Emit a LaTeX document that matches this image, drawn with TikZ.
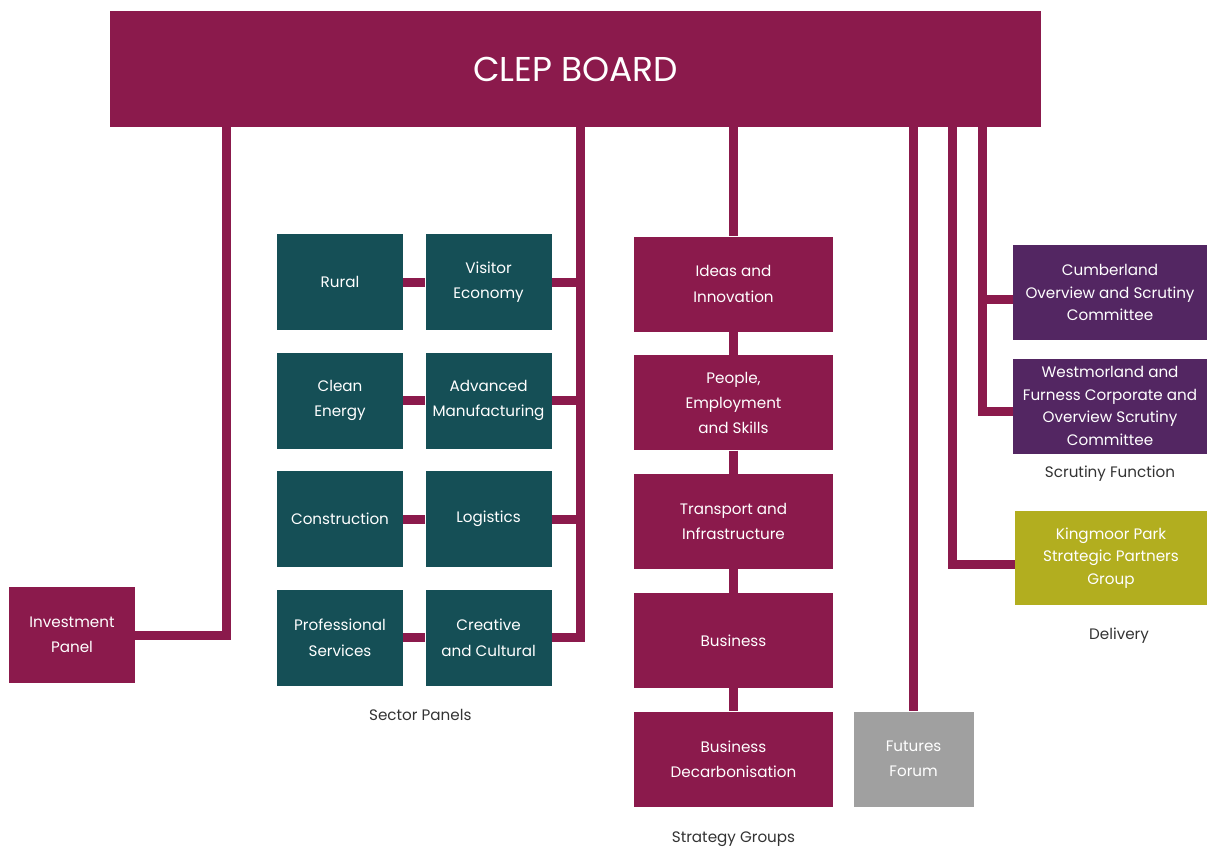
\documentclass[tikz,border=0pt]{standalone}
\usepackage{fontspec}
\setmainfont{Poppins}
\usetikzlibrary{calc,positioning}
\definecolor{clepred}{HTML}{8B1A4C}
\definecolor{clepteal}{HTML}{154F56}
\definecolor{scrutpurple}{HTML}{532662}
\definecolor{deliveryolive}{HTML}{B2AE1F}
\definecolor{futuregray}{HTML}{A0A0A0}
\definecolor{labelgray}{HTML}{333333}

\begin{document}
\begin{tikzpicture}[font=\fontsize{10.8}{18}\selectfont, node distance=0.55cm]
    \tikzset{
      panel/.style={fill=#1, text=white, align=center, inner sep=1pt},
      sector/.style={panel=clepteal, minimum width=3.15cm, minimum height=2.4cm},
      strat/.style={panel=clepred, minimum width=4.975cm, minimum height=2.375cm},
      side/.style={panel=#1, minimum width=4.85cm, minimum height=2.375cm, font=\fontsize{10.8}{16}\selectfont},
      link/.style={draw=clepred, line width=0.225cm},
      caption/.style={text=labelgray}
    }
    \useasboundingbox (0,0) rectangle (30.175,-21.175);
    \node[panel=clepred, minimum width=23.275cm, minimum height=2.9cm, font=\fontsize{24.5}{28}\selectfont] (board) at (14.3875,-1.725) {CLEP BOARD};
    \node[panel=clepred, minimum width=3.15cm, minimum height=2.4cm] (invest) at (1.8,-15.875) {Investment\\Panel};
    % sector panels
    \node[sector] (rural) at (8.5,-7.05) {Rural};
    \node[sector, right=of rural] (visitor) {Visitor\\Economy};
    \node[sector, below=of rural] (clean) {Clean\\Energy};
    \node[sector, right=of clean] (advman) {Advanced\\Manufacturing};
    \node[sector, below=of clean] (constr) {Construction};
    \node[sector, right=of constr] (logist) {Logistics};
    \node[sector, below=of constr] (profserv) {Professional\\Services};
    \node[sector, right=of profserv] (creative) {Creative\\and Cultural};
    \node[caption, below=0.45cm of $(profserv.south)!0.5!(creative.south)$, xshift=0.15cm] (sectlbl) {Sector Panels};
    % strategy groups
    \node[strat] (ideas) at (18.3375,-7.1) {Ideas and\\Innovation};
    \node[strat, below=0.58cm of ideas] (people) {People,\\Employment\\and Skills};
    \node[strat, below=0.58cm of people] (transport) {Transport and\\Infrastructure};
    \node[strat, below=0.58cm of transport] (business) {Business};
    \node[strat, below=0.58cm of business] (decarb) {Business\\Decarbonisation};
    \node[caption, below=0.5cm of decarb] (stratlbl) {Strategy Groups};
    \node[panel=futuregray, minimum width=3cm, minimum height=2.375cm, right=0.5cm of decarb] (futures) {Futures\\Forum};
    % scrutiny and delivery
    \node[side=scrutpurple] (cumb) at (27.75,-7.3125) {Cumberland\\Overview and Scrutiny\\Committee};
    \node[side=scrutpurple, below=0.45cm of cumb] (westm) {Westmorland and\\Furness Corporate and\\Overview Scrutiny\\Committee};
    \node[caption, below=0.18cm of westm] (scrutlbl) {Scrutiny Function};
    \node[side=deliveryolive, minimum width=4.8cm, minimum height=2.35cm] (kingmoor) at (27.775,-13.95) {Kingmoor Park\\Strategic Partners\\Group};
    \node[caption, below=0.45cm of kingmoor, xshift=0.2cm] (delivlbl) {Delivery};
    % connectors
    \coordinate (invtop) at (5.65,-3.1);
    \coordinate (sectop) at (14.5,-3.1);
    \coordinate (deltop) at (23.8,-3.1);
    \coordinate (scrtop) at (24.55,-3.1);
    \draw[link] (invest.east) -| (invtop);
    \draw[link] (sectop) |- (creative.east);
    \foreach \n in {visitor,advman,logist}
      \draw[link] (\n.east) -- (\n.east -| sectop);
    \foreach \a/\b in {rural/visitor,clean/advman,constr/logist,profserv/creative}
      \draw[link] (\a) -- (\b);
    \draw[link] (ideas.north |- invtop) -- (ideas);
    \foreach \a/\b in {ideas/people,people/transport,transport/business,business/decarb}
      \draw[link] (\a) -- (\b);
    \draw[link] (futures.north |- invtop) -- (futures);
    \draw[link] (deltop) |- ([yshift=-0.17cm]kingmoor.west);
    \draw[link] (scrtop) |- ([yshift=-0.14cm]westm.west);
    \draw[link] (scrtop |- cumb.west) ++(0,-0.18) -- ([yshift=-0.18cm]cumb.west);
\end{tikzpicture}
\end{document}
